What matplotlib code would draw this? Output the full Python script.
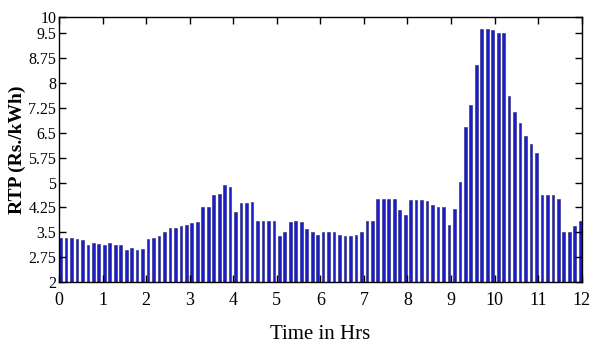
import numpy as np
import matplotlib.pyplot as plt

# RTP price, 96 slots over 12 hrs
rtp = [3.33, 3.33, 3.33, 3.30, 3.26, 3.12, 3.17, 3.15, 3.12, 3.18, 3.12, 3.12,
       2.97, 3.02, 2.97, 2.99, 3.31, 3.33, 3.40, 3.52, 3.62, 3.64, 3.69, 3.71,
       3.78, 3.82, 4.26, 4.26, 4.61, 4.67, 4.92, 4.88, 4.12, 4.37, 4.39, 4.42,
       3.85, 3.85, 3.85, 3.85, 3.39, 3.52, 3.82, 3.85, 3.82, 3.61, 3.52, 3.42,
       3.52, 3.52, 3.52, 3.42, 3.39, 3.39, 3.41, 3.52, 3.83, 3.85, 4.50, 4.51,
       4.51, 4.51, 4.18, 4.01, 4.48, 4.48, 4.48, 4.44, 4.31, 4.27, 4.26, 3.72,
       4.21, 5.02, 6.67, 7.33, 8.56, 9.63, 9.62, 9.61, 9.51, 9.51, 7.62, 7.12,
       6.81, 6.40, 6.16, 5.89, 4.61, 4.61, 4.61, 4.50, 3.51, 3.51, 3.69, 3.85]
yticks = [2, 2.75, 3.5, 4.25, 5, 5.75, 6.5, 7.25, 8, 8.75, 9.5, 10]
ytick_labels = ['2', '2.75', '3.5', '4.25', '5', '5.75', '6.5', '7.25', '8', '8.75', '9.5', '10']
xticks = list(range(13))

plt.rcParams['font.family'] = 'Liberation Serif'

fig = plt.figure(figsize=(5.9, 3.59), dpi=100)
ax = fig.add_axes([0.1, 0.2145, 0.886, 0.7385])

w = 0.062
x = np.linspace(0.035, 12 - 0.035, len(rtp))
ax.bar(x, rtp, width=w, bottom=0, color='#1c1cc8', edgecolor='#26267a', linewidth=0.4)

ax.set_xlim(0, 12)
ax.set_ylim(2, 10)
ax.set_xticks(xticks)
ax.set_xticklabels([str(t) for t in xticks], fontsize=13)
ax.set_yticks(yticks)
ax.set_yticklabels(ytick_labels, fontsize=11.5)
ax.tick_params(axis='y', pad=2)
ax.tick_params(axis='x', pad=7)
ax.tick_params(direction='in', top=True, right=True, length=5, width=1)
for s in ax.spines.values():
    s.set_linewidth(1)

ax.set_xlabel('Time in Hrs', fontsize=15, labelpad=12)
ax.set_ylabel('RTP (Rs./kWh)', fontsize=14, fontweight='bold', labelpad=2)

plt.savefig('out.png', dpi=100)
